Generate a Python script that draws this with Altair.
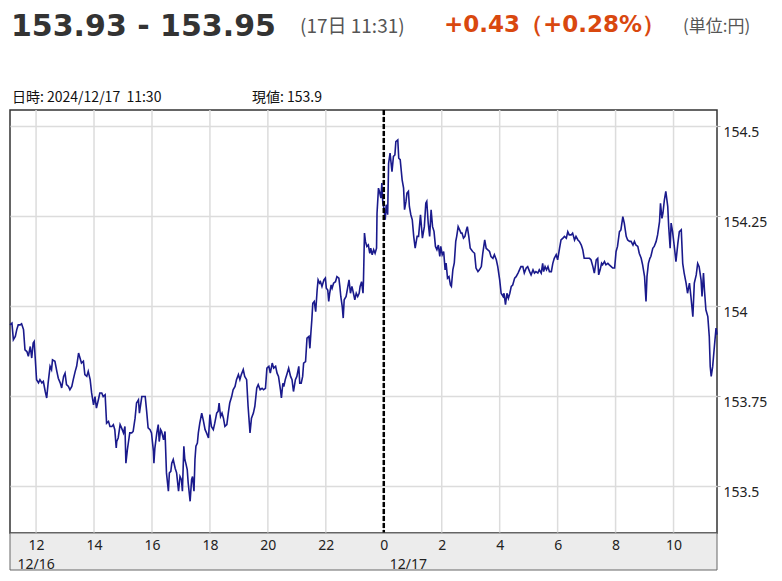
import altair as alt
import pandas as pd

# ---- header texts ----
price_range = "153.93 - 153.95"
price_time = "(17日 11:31)"
price_change = "+0.43（+0.28%）"
unit_text = "(単位:円)"
info_time = "日時: 2024/12/17 \u00a011:30"
info_value = "現値: 153.9"

# ---- axis ticks ----
hour_ticks = [0, 120, 240, 360, 480, 600, 720, 840, 960, 1080, 1200, 1320]  # minutes since 12/16 12:00
price_ticks = [153.5, 153.75, 154.0, 154.25, 154.5]
date_labels = ["12/16", "12/17"]
date_label_minutes = [0, 720]
day_boundary = [720]

# ---- series: minutes since 12/16 12:00 and USD/JPY price ----
minutes = [
    -54, -50, -47, -43, -40, -37, -33, -30, -26, -23, -19, -16, -12, -9, -6, -4, -2,
    1, 5, 8, 12, 15, 19, 22, 25, 29, 32, 34, 39, 43, 46, 50, 53, 57, 60, 63, 67, 70,
    74, 77, 81, 84, 88, 91, 94, 98, 101, 105, 108, 112, 115, 119, 122, 125, 129, 132,
    136, 139, 143, 146, 150, 153, 157, 160, 163, 166, 167, 170, 174, 177, 181, 184,
    186, 189, 191, 194, 198, 201, 205, 208, 212, 214, 217, 219, 222, 226, 229, 232,
    236, 239, 243, 244, 246, 250, 253, 255, 258, 260, 264, 267, 270, 274, 276, 279,
    281, 284, 288, 291, 295, 298, 301, 303, 306, 308, 310, 313, 315, 319, 322, 324,
    327, 329, 331, 334, 336, 339, 343, 346, 350, 353, 357, 360, 363, 367, 370, 374,
    377, 379, 382, 385, 388, 391, 395, 398, 401, 405, 408, 412, 415, 419, 422, 425,
    429, 432, 436, 439, 443, 446, 450, 453, 457, 460, 464,
    468, 471, 475, 478, 482, 485, 489, 492, 496, 499, 502, 506, 508, 511, 513, 516,
    520, 523, 527, 530, 533, 537, 540, 544, 546, 549, 552, 554, 558, 561, 565, 567,
    569, 571, 573, 576, 579, 582, 584, 587, 589, 592, 596, 599, 601, 604, 606, 608,
    611, 613, 616, 620, 623, 627, 629, 631, 634, 636, 638, 642, 645, 648, 651, 654,
    658, 660, 663, 666, 669, 671, 674, 677, 678, 680, 682, 685, 688, 691, 693, 696,
    699, 702, 705, 706, 709, 711, 714, 716, 718, 721, 723, 725, 728, 730, 733, 737,
    740, 743, 745, 749, 751, 754, 758, 761, 763, 766, 768, 771, 773, 776, 779, 782,
    785, 789, 792, 796, 798, 800, 804, 807, 809, 812, 815, 818, 821, 824, 827, 830,
    833, 836, 838, 841, 844, 847, 849, 852, 855, 858, 860, 863, 866, 869, 871, 874,
    877, 880, 882, 885, 888, 891, 893, 896, 899,
    904, 908, 911, 915, 918, 922, 925, 929, 932, 935, 939, 942, 946, 949, 953, 956,
    960, 963, 967, 969, 972, 975, 978, 981, 984, 987, 991, 994, 998, 1001, 1004, 1008,
    1011, 1015, 1018, 1022, 1025, 1029, 1032, 1035, 1039, 1042, 1046, 1049, 1051, 1054,
    1057, 1060, 1063, 1067, 1070, 1073, 1077, 1080, 1084, 1087, 1091, 1094, 1098, 1101,
    1104, 1108, 1111, 1115, 1118, 1122, 1125, 1129, 1132, 1135, 1139, 1142, 1146, 1149,
    1153, 1156, 1160, 1163, 1165, 1168, 1171, 1173, 1177, 1180, 1184, 1187, 1191, 1194,
    1198, 1201, 1204, 1208, 1211, 1215, 1218, 1222, 1225, 1229, 1232, 1236, 1239, 1242,
    1246, 1249, 1253, 1256, 1260, 1263, 1265, 1268, 1271, 1273, 1277, 1280, 1284, 1287,
    1291, 1293, 1296, 1298, 1301, 1304, 1308, 1310, 1313, 1315, 1318, 1322, 1325, 1329,
    1332, 1336, 1339, 1342, 1346, 1349, 1353, 1356, 1360, 1363, 1367, 1370, 1373, 1377,
    1379, 1382, 1384, 1387, 1391, 1394, 1396, 1398, 1401, 1404, 1408, 1410,
]

prices = [
    153.947, 153.952, 153.906, 153.915, 153.934, 153.947, 153.947, 153.950, 153.934,
    153.878, 153.873, 153.860, 153.887, 153.855, 153.897, 153.901, 153.860,
    153.795, 153.786, 153.795, 153.786, 153.790, 153.762, 153.744, 153.786, 153.832,
    153.823, 153.850, 153.846, 153.818, 153.799, 153.786, 153.772, 153.804, 153.813,
    153.781, 153.776, 153.767, 153.776, 153.795, 153.818, 153.832, 153.869, 153.855,
    153.841, 153.846, 153.809, 153.804, 153.818, 153.795, 153.758, 153.725, 153.748,
    153.716, 153.739, 153.758, 153.758, 153.748, 153.753, 153.674, 153.679, 153.665,
    153.665, 153.670, 153.656, 153.605, 153.623, 153.633, 153.670, 153.661, 153.647,
    153.665, 153.563, 153.600, 153.619, 153.647, 153.647, 153.651, 153.688, 153.730,
    153.739, 153.702, 153.730, 153.748, 153.748, 153.748, 153.707, 153.661, 153.656,
    153.647, 153.596, 153.563, 153.605, 153.647, 153.670, 153.623, 153.656, 153.651,
    153.628, 153.651, 153.536, 153.485, 153.536, 153.540, 153.563, 153.573, 153.549,
    153.536, 153.485, 153.526, 153.517, 153.485, 153.610, 153.573, 153.563, 153.545,
    153.508, 153.457, 153.517, 153.526, 153.485, 153.573, 153.610, 153.619, 153.647,
    153.674, 153.702, 153.684, 153.656, 153.647, 153.633, 153.698, 153.665, 153.656,
    153.674, 153.702, 153.707, 153.730, 153.693, 153.702, 153.688, 153.665, 153.670,
    153.702, 153.730, 153.748, 153.767, 153.776, 153.795, 153.809, 153.795, 153.809,
    153.823, 153.804, 153.795, 153.721, 153.647, 153.688, 153.702, 153.721, 153.772,
    153.781, 153.767,
    153.771, 153.767, 153.771, 153.827, 153.832, 153.813, 153.841, 153.827, 153.832,
    153.813, 153.804, 153.767, 153.744, 153.785, 153.776, 153.795, 153.813, 153.827,
    153.804, 153.795, 153.762, 153.795, 153.804, 153.832, 153.785, 153.785, 153.804,
    153.841, 153.845, 153.910, 153.915, 153.882, 153.924, 153.961, 154.007, 154.012,
    153.984, 154.044, 154.072, 154.063, 154.067, 154.054, 154.072, 154.077, 154.049,
    154.044, 154.012, 154.035, 154.058, 154.049, 154.063, 154.067, 154.081, 154.077,
    154.054, 154.026, 153.998, 153.966, 154.017, 154.026, 154.049, 154.072, 154.035,
    154.054, 154.030, 154.017, 154.035, 154.026, 154.035, 154.054, 154.067, 154.035,
    154.072, 154.202, 154.179, 154.165, 154.169, 154.146, 154.160, 154.142, 154.156,
    154.146, 154.160, 154.257, 154.327, 154.318, 154.299, 154.341, 154.285, 154.267,
    154.239, 154.281, 154.253, 154.396, 154.424, 154.373, 154.415, 154.419, 154.456,
    154.461, 154.410, 154.406, 154.350, 154.327, 154.267, 154.290, 154.313, 154.318,
    154.276, 154.253, 154.239, 154.193, 154.160, 154.193, 154.193, 154.253, 154.220,
    154.188, 154.220, 154.285, 154.290, 154.230, 154.193, 154.267, 154.220, 154.207,
    154.165, 154.156, 154.169, 154.137, 154.165, 154.142, 154.151, 154.100, 154.119,
    154.077, 154.081, 154.058, 154.054, 154.100, 154.119, 154.179, 154.193, 154.220,
    154.211, 154.202, 154.202, 154.188, 154.193, 154.211, 154.220, 154.193, 154.160,
    154.151, 154.146, 154.105, 154.095, 154.100, 154.109, 154.146, 154.183, 154.160,
    154.156, 154.151, 154.137, 154.132, 154.142, 154.128, 154.109, 154.072, 154.035,
    154.026, 154.035, 154.003, 154.035, 154.021, 154.035, 154.054, 154.058, 154.077,
    154.081, 154.091, 154.100, 154.109, 154.109, 154.091, 154.105, 154.109, 154.095,
    154.086, 154.100, 154.091, 154.095, 154.091, 154.100, 154.091, 154.118, 154.095,
    154.109, 154.100, 154.109, 154.095, 154.095, 154.118, 154.132, 154.142, 154.128,
    154.160, 154.183, 154.188, 154.193, 154.188, 154.206, 154.197, 154.197, 154.202,
    154.183, 154.193, 154.183, 154.179, 154.169, 154.156, 154.132, 154.132, 154.132,
    154.132, 154.128, 154.109, 154.091, 154.128, 154.132, 154.086, 154.100, 154.118,
    154.114, 154.123, 154.114, 154.118, 154.114, 154.109, 154.105, 154.105, 154.151,
    154.165, 154.206, 154.211, 154.248, 154.230, 154.193, 154.183, 154.179, 154.179,
    154.169, 154.179, 154.169, 154.165, 154.146, 154.132, 154.114, 154.081, 154.012,
    154.081, 154.118, 154.132, 154.137, 154.160, 154.165, 154.179, 154.197, 154.234,
    154.285, 154.243, 154.257, 154.294, 154.318, 154.276, 154.220, 154.160, 154.230,
    154.206, 154.160, 154.123, 154.174, 154.206, 154.211, 154.118, 154.091, 154.063,
    154.035, 154.063, 154.026, 153.970, 154.063, 154.086, 154.118, 154.109, 154.072,
    154.026, 154.091, 154.044, 153.989, 153.970, 153.915, 153.831, 153.804, 153.831,
    153.878, 153.938, 153.920,
]

df = pd.DataFrame({"minute": minutes, "price": prices})

W, H = 707, 423
x_scale = alt.Scale(domain=[-54, 1410], nice=False, zero=False)
y_scale = alt.Scale(domain=[153.369, 154.544], nice=False, zero=False)

LINE_COLOR = "#1a1a8c"
GRID_COLOR = "#dcdcdc"

# x-axis band background
band = alt.Chart(alt.Data(values=[{}])).mark_rect(
    fill="#ececec", stroke="#666", strokeWidth=1
).encode(x=alt.value(0), x2=alt.value(W), y=alt.value(H), y2=alt.value(H + 37))

vgrid = alt.Chart(pd.DataFrame({"minute": hour_ticks})).mark_rule(
    color=GRID_COLOR, strokeWidth=1.5
).encode(x=alt.X("minute:Q", scale=x_scale))

line = alt.Chart(df).mark_line(color=LINE_COLOR, strokeWidth=1.6).encode(
    x=alt.X(
        "minute:Q",
        scale=x_scale,
        axis=alt.Axis(
            values=hour_ticks,
            labelExpr="'' + ((datum.value / 60 + 12) % 24)",
            title=None,
            grid=False,
            ticks=False,
            domain=False,
            labelPadding=5,
            labelFont="Noto Sans",
            labelFontSize=14,
            labelColor="#222",
            zindex=1,
        ),
    ),
    y=alt.Y(
        "price:Q",
        scale=y_scale,
        axis=alt.Axis(
            orient="right",
            values=price_ticks,
            format=".2~f",
            title=None,
            grid=True,
            gridColor=GRID_COLOR,
            gridWidth=1.5,
            domain=False,
            tickSize=3,
            tickColor="#aaa",
            labelPadding=3,
            labelFont="Noto Sans",
            labelFontSize=14,
            labelColor="#222",
            labelBaseline="top",
        ),
    ),
)

divider = alt.Chart(pd.DataFrame({"minute": day_boundary})).mark_rule(
    color="#000", strokeWidth=2.5, strokeDash=[5, 2]
).encode(x=alt.X("minute:Q", scale=x_scale))

dates = alt.Chart(pd.DataFrame({"minute": date_label_minutes, "label": date_labels}))
date_1216 = dates.transform_filter(alt.datum.label == "12/16").mark_text(
    font="Noto Sans", fontSize=14, color="#222", align="center", baseline="alphabetic"
).encode(x=alt.X("minute:Q", scale=x_scale), y=alt.value(H + 36), text="label:N")
date_1217 = dates.transform_filter(alt.datum.label == "12/17").mark_text(
    font="Noto Sans", fontSize=14, color="#222", align="left", baseline="alphabetic", dx=6
).encode(x=alt.X("minute:Q", scale=x_scale), y=alt.value(H + 36), text="label:N")


def label(text, x, y, **kw):
    return alt.Chart(alt.Data(values=[{}])).mark_text(
        text=text, align="left", baseline="alphabetic", **kw
    ).encode(x=alt.value(x), y=alt.value(y))


h1 = label(price_range, 1, -74, font="DejaVu Sans", fontSize=30, fontWeight="bold", color="#333")
h2 = label(price_time, 290, -77, font="Noto Sans CJK JP", fontSize=19, color="#555")
h3 = label(price_change, 434, -78, font="DejaVu Sans", fontSize=23, fontWeight="bold", color="#d9480f")
h4 = label(unit_text, 673, -78, font="Noto Sans CJK JP", fontSize=17, color="#555")
i1 = label(info_time, 2, -8, font="Noto Sans CJK JP", fontSize=14, color="#111")
i2 = label(info_value, 242, -8, font="Noto Sans CJK JP", fontSize=14, color="#111")

chart = (
    alt.layer(vgrid, line, divider, band, date_1216, date_1217, h1, h2, h3, h4, i1, i2)
    .properties(
        width=W,
        height=H,
        autosize=alt.AutoSizeParams(type="none"),
        padding={"left": 2, "top": 102, "right": 55, "bottom": 42},
        background="white",
    )
    .configure_view(stroke="#333", strokeWidth=1.5)
)

chart.save("out.html", embed_options={"renderer": "svg", "actions": False})
